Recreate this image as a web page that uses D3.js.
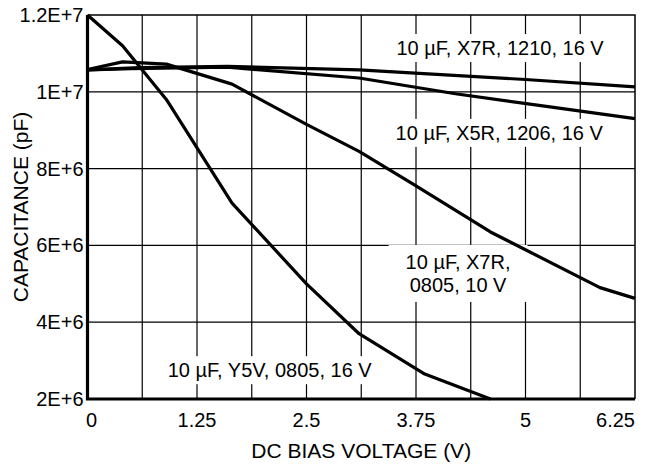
<!DOCTYPE html>
<html lang="en">
<head>
    <meta charset="UTF-8">
    <title>Capacitance vs DC bias</title>
    <script src="https://d3js.org/d3.v7.min.js"></script>
    <style>
        body { margin: 0; background: #fff; }
        text { font-family: "Liberation Sans", Arial, Helvetica, sans-serif; fill: #000; }
    </style>
</head>
<body>
<div id="chart"></div>

<script type="text/javascript">
    var width = 646;
    var height = 466;

    // axis ticks
    var xTicks = [0, 1.25, 2.5, 3.75, 5, 6.25];
    var xTickLabels = ["0", "1.25", "2.5", "3.75", "5", "6.25"];
    var xGrid = [0.625, 1.25, 1.875, 2.5, 3.125, 3.75, 4.375, 5, 5.625];
    var yTicks = [2e6, 4e6, 6e6, 8e6, 1e7, 1.2e7];
    var yTickLabels = ["2E+6", "4E+6", "6E+6", "8E+6", "1E+7", "1.2E+7"];

    // curves (volts, pF)
    var y5vV = [0, 0.4, 0.9, 1.65, 2.5, 3.1, 3.85, 4.6];
    var y5vC = [1.2e7, 1.12e7, 9.8e6, 7.1e6, 5.0e6, 3.7e6, 2.65e6, 2.0e6];

    var x7r0805V = [0, 0.4, 0.9, 1.65, 2.5, 3.1, 3.75, 4.6, 5.85, 6.25];
    var x7r0805C = [1.058e7, 1.078e7, 1.072e7, 1.02e7, 9.15e6, 8.45e6, 7.55e6, 6.35e6, 4.9e6, 4.62e6];

    var x5rV = [0, 0.5, 1.6, 3.1, 4.2, 5.3, 6.25];
    var x5rC = [1.057e7, 1.06e7, 1.064e7, 1.036e7, 9.95e6, 9.6e6, 9.3e6];

    var x7r1210V = [0, 0.6, 1.6, 3.1, 5.0, 6.25];
    var x7r1210C = [1.057e7, 1.063e7, 1.066e7, 1.057e7, 1.032e7, 1.013e7];

    var labelText = [["10 \u00b5F, X7R, 1210, 16 V"], ["10 \u00b5F, X5R, 1206, 16 V"],
                     ["10 \u00b5F, X7R,", "0805, 10 V"], ["10 \u00b5F, Y5V, 0805, 16 V"]];
    var labelV = [4.71, 4.70, 4.23, 2.08];
    var labelC = [1.114e7, 8.93e6, 5.27e6, 2.75e6];

    var mLeft = 87.5, mRight = 635, mTop = 15, mBottom = 399;

    var x = d3.scaleLinear().domain([0, 6.25]).range([mLeft, mRight]);
    var y = d3.scaleLinear().domain([2e6, 1.2e7]).range([mBottom, mTop]);

    var svg = d3.select("#chart")
        .append("svg")
        .attr("width", width)
        .attr("height", height);

    // grid
    svg.append("g").selectAll("line")
        .data(xGrid)
        .enter().append("line")
        .attr("x1", d => x(d)).attr("x2", d => x(d))
        .attr("y1", mTop).attr("y2", mBottom)
        .attr("stroke", "#000").attr("stroke-width", 1.2);

    svg.append("g").selectAll("line")
        .data(yTicks.slice(1, -1))
        .enter().append("line")
        .attr("x1", mLeft).attr("x2", mRight)
        .attr("y1", d => y(d)).attr("y2", d => y(d))
        .attr("stroke", "#000").attr("stroke-width", 1.2);

    // frame: thin top/right, heavy left/bottom
    svg.append("path")
        .attr("d", "M" + mLeft + "," + mTop + "H" + mRight + "V" + mBottom)
        .attr("fill", "none").attr("stroke", "#000").attr("stroke-width", 1.5);

    // label boxes (white, they break the grid) + text
    var boxes = svg.append("g");
    var curveG = svg.append("g");
    var labels = svg.append("g");
    labelText.forEach(function (lines, i) {
        var t = labels.append("text")
            .attr("text-anchor", "middle")
            .attr("font-size", "20px");
        lines.forEach(function (s, j) {
            t.append("tspan")
                .attr("x", x(labelV[i]))
                .attr("y", y(labelC[i]) + 7 + (j - (lines.length - 1) / 2) * 23)
                .text(s);
        });
        var b = t.node().getBBox();
        var px = lines.length > 1 ? 17 : 5, py = lines.length > 1 ? 6 : 3;
        boxes.append("rect")
            .attr("x", b.x - px).attr("y", b.y - py)
            .attr("width", b.width + 2 * px).attr("height", b.height + 2 * py)
            .attr("fill", "#fff");
    });

    // curves
    var line = d3.line().x(d => x(d[0])).y(d => y(d[1]));
    var curves = [[y5vV, y5vC], [x7r0805V, x7r0805C], [x5rV, x5rC], [x7r1210V, x7r1210C]];
    curveG.selectAll("path")
        .data(curves)
        .enter().append("path")
        .attr("d", c => line(d3.zip(c[0], c[1])))
        .attr("fill", "none")
        .attr("stroke", "#000")
        .attr("stroke-width", 3.2)
        .attr("stroke-linejoin", "round");

    // heavy axes
    svg.append("path")
        .attr("d", "M" + mLeft + "," + mTop + "V" + mBottom + "H" + mRight)
        .attr("fill", "none").attr("stroke", "#000").attr("stroke-width", 3.2);

    // tick labels
    svg.append("g").selectAll("text")
        .data(xTicks)
        .enter().append("text")
        .attr("x", d => x(d))
        .attr("y", mBottom + 28)
        .attr("font-size", "20px")
        .attr("text-anchor", (d, i) => i === xTicks.length - 1 ? "end" : "middle")
        .attr("dx", (d, i) => i === 0 ? 4 : 0)
        .text((d, i) => xTickLabels[i]);

    svg.append("g").selectAll("text")
        .data(yTicks)
        .enter().append("text")
        .attr("x", mLeft - 4)
        .attr("y", d => y(d) + 7)
        .attr("font-size", "20px")
        .attr("text-anchor", "end")
        .text((d, i) => yTickLabels[i]);

    // axis titles
    svg.append("text")
        .attr("x", (mLeft + mRight) / 2)
        .attr("y", 458)
        .attr("font-size", "21px")
        .attr("text-anchor", "middle")
        .text("DC BIAS VOLTAGE (V)");

    svg.append("text")
        .attr("transform", "translate(28," + ((mTop + mBottom) / 2) + ") rotate(-90)")
        .attr("font-size", "21px")
        .attr("text-anchor", "middle")
        .text("CAPACITANCE (pF)");
</script>
</body>
</html>
